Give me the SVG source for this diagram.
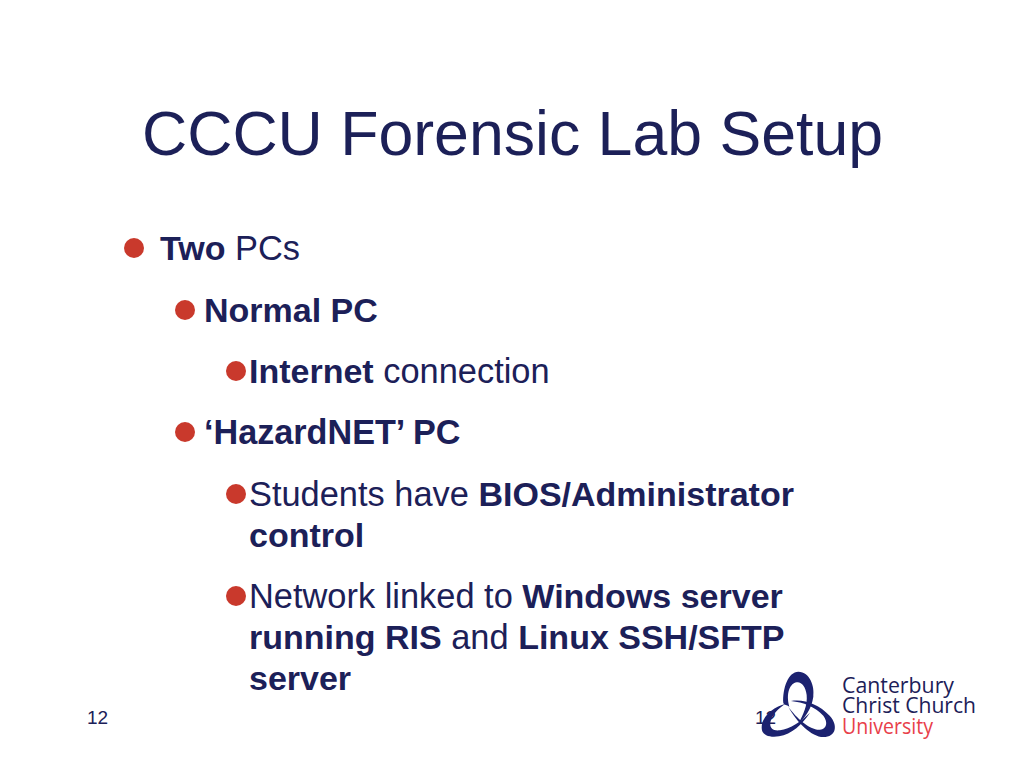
<svg xmlns="http://www.w3.org/2000/svg" width="1024" height="768" viewBox="0 0 1024 768">
<style>
text{font-family:"Liberation Sans",Arial,sans-serif;fill:#1c2058}
.t{font-size:62.6px}
.b{font-size:34.4px}
.bold{font-weight:bold;font-size:34px}
.f{font-size:19px}
.dot{fill:#c9392c}
text.lg{font-family:"Open Sans","Noto Sans",sans-serif;font-size:21px;font-weight:500}
</style>
<rect width="1024" height="768" fill="#ffffff"/>
<g id="title"><text class="t" x="142" y="155">CCCU Forensic Lab Setup</text></g>
<g id="bullets">
<circle class="dot" cx="134" cy="248" r="10"/>
<text class="b" x="160" y="260"><tspan class="bold">Two</tspan> PCs</text>
<circle class="dot" cx="185" cy="310" r="10"/>
<text class="b bold" x="204" y="322">Normal PC</text>
<circle class="dot" cx="236" cy="371" r="10"/>
<text class="b" x="249" y="383"><tspan class="bold">Internet</tspan> connection</text>
<circle class="dot" cx="185" cy="432" r="10"/>
<text class="b bold" x="204" y="444" style="font-size:34.2px">‘HazardNET’ PC</text>
<circle class="dot" cx="236" cy="494" r="10"/>
<text class="b" x="249" y="506">Students have <tspan class="bold">BIOS/Administrator</tspan></text>
<text class="b bold" x="249" y="547">control</text>
<circle class="dot" cx="236" cy="596" r="10"/>
<text class="b" x="249" y="608">Network linked to <tspan class="bold">Windows server</tspan></text>
<text class="b" x="249" y="649"><tspan class="bold">running RIS</tspan> and <tspan class="bold">Linux SSH/SFTP</tspan></text>
<text class="b bold" x="249" y="690">server</text>
</g>
<g id="footer">
<text class="f" x="87" y="724">12</text>
<text class="f" x="755" y="724">12</text>
</g>
<g id="logo">
<g transform="translate(755 665) scale(0.3333)" fill="#1c2270">
<path d="M85 115C82 70 100 20 130 20C165 20 180 65 175 95C170 130 150 160 130 175C145 150 158 120 155 90C152 65 140 50 125 52C105 55 92 85 103 125C95 120 88 120 85 115Z"/>
<path d="M92 116C60 125 20 150 20 188C20 212 45 218 72 214C110 208 142 178 165 143C140 168 105 192 75 196C52 199 42 188 47 168C52 148 70 130 92 116Z"/>
<path d="M108 108C150 102 190 118 224 152C250 180 244 216 205 216C170 216 125 172 100 125C125 160 165 196 195 194C215 192 220 172 205 152C180 125 145 112 108 108Z"/>
</g>
<text class="lg" x="842" y="693" textLength="112" lengthAdjust="spacingAndGlyphs">Canterbury</text>
<text class="lg" x="842" y="713" textLength="134" lengthAdjust="spacingAndGlyphs">Christ Church</text>
<text class="lg" x="842" y="734" textLength="91" lengthAdjust="spacingAndGlyphs" style="fill:#e8404a">University</text>
</g>
</svg>
